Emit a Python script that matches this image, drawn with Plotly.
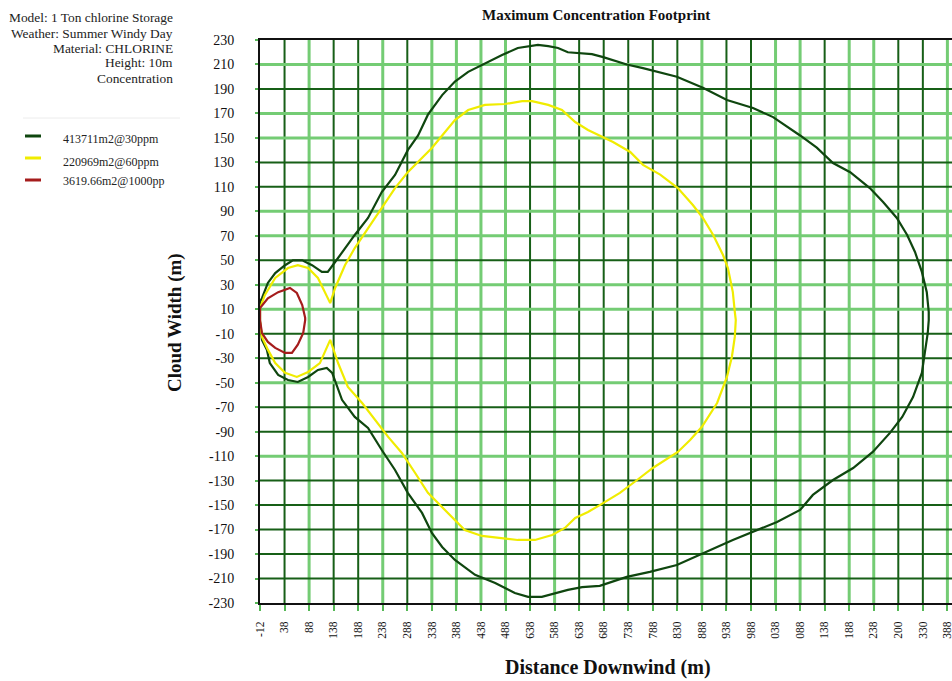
import plotly.graph_objects as go

# ---------------- data ----------------
x_tick_values = [-12 + 50 * i for i in range(29)]
x_tick_labels = ["-12", "38", "88", "138", "188", "238", "288", "338", "388", "438",
                 "488", "638", "588", "638", "688", "738", "788", "830", "888", "938",
                 "988", "038", "088", "138", "188", "238", "200", "330", "388"]
y_tick_values = [230, 210, 190, 170, 150, 130, 110, 90, 70, 50, 30, 10,
                 -10, -30, -50, -70, -90, -110, -130, -150, -170, -190, -210, -230]

info_lines = ["Model: 1 Ton chlorine Storage", "Weather: Summer Windy Day",
              "Material: CHLORINE", "Height: 10m", "Concentration"]
series_names = ["413711m2@30ppm", "220969m2@60ppm", "3619.66m2@1000pp"]

# 30 ppm footprint (outer)
x30 = [-12, -8, 4, 19, 39, 55, 74, 94, 114, 126, 141, 161, 181, 208, 236, 263, 289, 310,
       330, 359, 385, 412, 446, 481, 513, 554, 575, 595, 615, 640, 664, 687, 735, 768,
       837, 890, 939, 992, 1033, 1088, 1122, 1155, 1190, 1230, 1257, 1285, 1306, 1322,
       1336, 1346, 1350, 1350, 1348, 1342, 1336, 1318, 1296, 1271, 1236, 1196, 1155,
       1114, 1088, 1041, 1000, 951, 919, 884, 837, 782, 735, 680, 644, 615, 589, 562,
       534, 507, 467, 426, 385, 359, 338, 318, 289, 263, 236, 208, 181, 155, 135, 124,
       106, 86, 65, 45, 25, 8, 2, -8, -12, -12]
y30 = [16, 19, 31.5, 39.6, 46, 50, 50, 46, 40.5, 40.5, 48.6, 60, 70.7, 84.6, 105.8,
       119.7, 140, 152, 169, 185, 196, 204, 211, 217.7, 223.5, 226, 225, 223.5, 220,
       219, 218.5, 216, 210, 207, 200, 191, 181, 174.4, 167, 152, 142, 129.5, 122, 109,
       97.6, 84.6, 70.7, 56.8, 40.5, 24, 7.8, 1, -9.4, -25.7, -42, -61.7, -78, -91,
       -106.6, -119.7, -129.5, -141.7, -154, -163.8, -170.3, -178.5, -184.2, -190.7,
       -199, -204.6, -208.7, -216, -217, -219.3, -221.8, -225, -225, -221.8, -213.6,
       -207, -194.8, -184.2, -172.8, -156.4, -140, -121.3, -105, -87, -78, -64, -42,
       -38, -39.6, -45.3, -49.4, -47.8, -43.7, -34, -23, -15, 0, 16]

# 60 ppm footprint (middle)
x60 = [-12, -2, 19, 45, 65, 86, 106, 120, 131, 141, 161, 181, 208, 236, 263, 289, 318,
       338, 359, 385, 412, 446, 487, 522, 542, 575, 603, 630, 656, 680, 707, 742, 768,
       803, 839, 870, 890, 911, 931, 941, 951, 955, 957, 955, 949, 939, 919, 888, 864,
       839, 788, 756, 721, 680, 656, 630, 609, 583, 548, 513, 481, 440, 405, 385, 359,
       330, 304, 277, 249, 222, 196, 167, 147, 131, 120, 110, 86, 63, 39, 19, 4, -8,
       -12, -12]
y60 = [11, 21.7, 35.6, 43.7, 46, 43.7, 35.6, 24, 15, 27.4, 46, 60, 76.4, 92.7, 109,
       122, 133.6, 141.8, 152, 164.6, 172.8, 177, 177.7, 180, 180, 177, 172.8, 163,
       156.5, 152, 146.7, 138.5, 128, 120, 109, 95, 84.6, 70.7, 54.3, 43.7, 24, 7.8,
       1.2, -12.6, -29, -45.3, -66.6, -86, -96.8, -106.6, -119.7, -129.5, -140, -150,
       -155.6, -160.5, -168.7, -174.4, -178.5, -178.5, -176.9, -175.2, -170.3, -162,
       -151.5, -140, -123.8, -107.4, -94.3, -80.5, -66.6, -53.5, -33.9, -15, -25.7,
       -34, -41.2, -45.3, -42, -34, -23, -12.6, 0, 11]

# 1000 ppm footprint (inner)
x1000 = [-12, 4, 25, 49, 63, 74, 80, 80, 76, 65, 53, 39, 19, 4, -8, -12, -12]
y1000 = [11, 19, 24, 27.4, 23.3, 13.5, 3, 1, -9.4, -19, -25.7, -25.7, -21.6, -16.7,
         -9.4, 1, 11]

# ---------------- styles ----------------
W, H = 952, 681
L, R, T, B = 260, 0, 40, 78
FONT = "Liberation Serif, Times New Roman, serif"
line_colors = ["#0f460f", "#f0ec00", "#a51c1c"]
DARK = "#175f17"
LIGHT = "#74cc74"
# which gridlines render dark (True) or light (False), following the picture
v_dark = [None, True, False, True, True, False, True, False, False, False, False, True,
          False, True, True, True, True, True, False, True, True, False, False, True,
          False, False, True, True, False]
h_dark = [None, False, True, False, False, True, True, False, False, True, False, False,
          True, True, False, True, True, False, True, True, True, True, True, None]

pw, ph = W - L - R, H - T - B


def pxx(px):
    return (px - L) / pw


def pxy(py):
    return (H - B - py) / ph


fig = go.Figure()
for xs, ys, c, n in zip([x30, x60, x1000], [y30, y60, y1000], line_colors, series_names):
    fig.add_trace(go.Scatter(x=xs, y=ys, mode="lines", name=n, showlegend=False,
                             line=dict(color=c, width=2.2), hoverinfo="skip"))

shapes = []
for i, xv in enumerate(x_tick_values):
    if v_dark[i] is None:
        continue
    shapes.append(dict(type="line", xref="x", yref="paper", x0=xv, x1=xv, y0=0, y1=1,
                       layer="below",
                       line=dict(color=DARK if v_dark[i] else LIGHT,
                                 width=2 if v_dark[i] else 3)))
for j, yv in enumerate(y_tick_values):
    if h_dark[j] is None:
        continue
    shapes.append(dict(type="line", xref="paper", yref="y", x0=0, x1=1, y0=yv, y1=yv,
                       layer="below",
                       line=dict(color=DARK if h_dark[j] else LIGHT,
                                 width=2 if h_dark[j] else 3)))

# legend separator and samples
shapes.append(dict(type="line", xref="paper", yref="paper", x0=pxx(23), x1=pxx(180),
                   y0=pxy(118), y1=pxy(118), line=dict(color="#ececec", width=1)))
sample_y = [136, 158, 180]
text_y = [139, 162, 181]
annotations = []
for k, (c, n) in enumerate(zip(line_colors, series_names)):
    shapes.append(dict(type="line", xref="paper", yref="paper", x0=pxx(25), x1=pxx(41),
                       y0=pxy(sample_y[k]), y1=pxy(sample_y[k]),
                       line=dict(color=c, width=3)))
    annotations.append(dict(text=n, xref="paper", yref="paper", x=pxx(61),
                            y=pxy(text_y[k]), xanchor="left", yanchor="middle",
                            showarrow=False, font=dict(family=FONT, size=12, color="#222")))

for k, t in enumerate(info_lines):
    annotations.append(dict(text=t, xref="paper", yref="paper", x=pxx(175),
                            y=pxy(18 + 15 * k), xanchor="right", yanchor="middle",
                            showarrow=False, font=dict(family=FONT, size=13.4, color="#222")))

annotations.append(dict(text="<b>Maximum Concentration Footprint</b>", xref="paper",
                        yref="paper", x=pxx(596), y=pxy(15), xanchor="center",
                        yanchor="middle", showarrow=False,
                        font=dict(family=FONT, size=15, color="#111")))
annotations.append(dict(text="<b>Distance Downwind (m)</b>", xref="paper", yref="paper",
                        x=pxx(608), y=pxy(667), xanchor="center", yanchor="middle",
                        showarrow=False, font=dict(family=FONT, size=20, color="#111")))
annotations.append(dict(text="<b>Cloud Width (m)</b>", xref="paper", yref="paper",
                        x=pxx(175), y=pxy(323), xanchor="center", yanchor="middle",
                        textangle=-90, showarrow=False,
                        font=dict(family=FONT, size=19, color="#111")))

fig.update_layout(
    width=W, height=H,
    margin=dict(l=L, r=R, t=T, b=B, pad=0),
    paper_bgcolor="white", plot_bgcolor="white",
    shapes=shapes, annotations=annotations,
    showlegend=False,
    xaxis=dict(range=[-12, -12 + 50 * (W - L - R) / 24.55], tickmode="array",
               tickvals=x_tick_values, ticktext=x_tick_labels, tickangle=-90,
               showgrid=False, zeroline=False, showline=True, linecolor="#111",
               linewidth=2, mirror=True, ticks="outside", ticklen=6, tickwidth=2,
               tickcolor="#55b855", ticklabelstandoff=6, ticklabeloverflow="allow",
               tickfont=dict(family=FONT, size=11.5, color="#111")),
    yaxis=dict(range=[-230, 230], tickmode="array", tickvals=y_tick_values,
               ticktext=[str(v) for v in y_tick_values], showgrid=False, zeroline=False,
               showline=True, linecolor="#111", linewidth=2, ticks="outside",
               ticklen=3, tickwidth=2, tickcolor="#55b855", ticklabelstandoff=18,
               tickfont=dict(family=FONT, size=14, color="#111")),
)

fig.write_html("out.html")
